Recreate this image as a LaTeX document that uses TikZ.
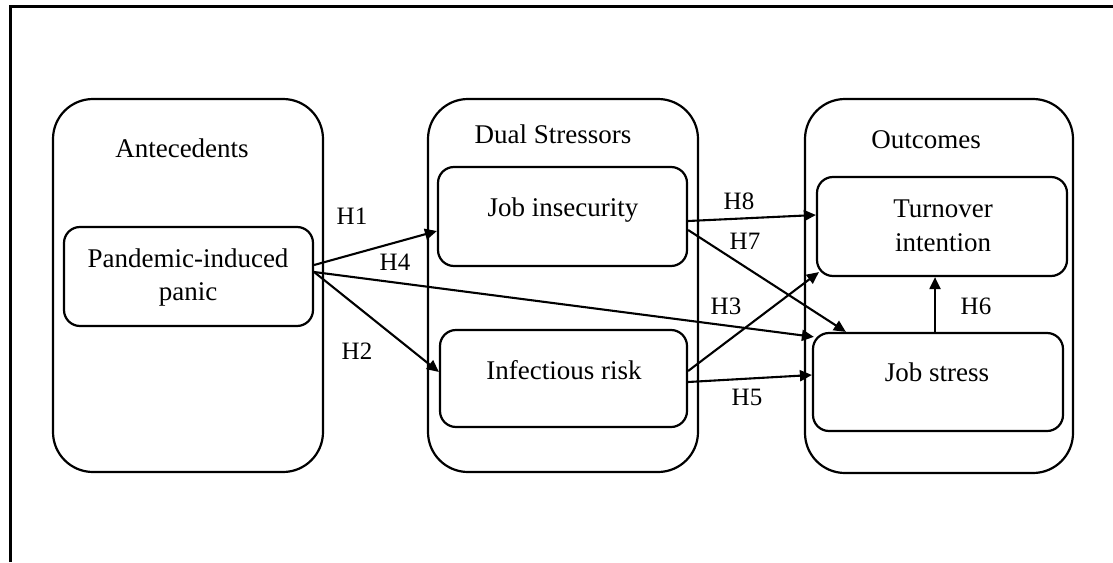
\documentclass[tikz,border=0pt]{standalone}
\usepackage{fontspec}
\setmainfont{Liberation Serif}
\usetikzlibrary{arrows.meta}
\begin{document}
\begin{tikzpicture}[x=1pt,y=-1pt,
  group/.style={draw,line width=2.2pt,rounded corners=40pt,inner sep=0pt},
  var/.style={draw,line width=2.2pt,rounded corners=16pt,inner sep=0pt},
  txt/.style={anchor=base,inner sep=0pt,font=\fontsize{27}{33}\selectfont},
  hyp/.style={anchor=base,inner sep=0pt,font=\fontsize{25}{30}\selectfont},
  link/.style={line width=2.1pt,-{Triangle[length=12pt,width=11pt]}}]
\useasboundingbox (0,0) rectangle (1113,562);

% frame
\draw[line width=3pt] (10,562) -- (10,6) -- (1113,6);

% three groups
\node[group,minimum width=270pt,minimum height=373pt] (ante) at (188,285.5) {};
\node[group,minimum width=270pt,minimum height=373pt] (dual) at (563,285.5) {};
\node[group,minimum width=268pt,minimum height=374pt] (outc) at (939,286) {};
\node[txt] (anteT) at (182,157) {Antecedents};
\node[txt] (dualT) at (553,143) {Dual Stressors};
\node[txt] (outcT) at (926,148) {Outcomes};

% variables
\node[var,minimum width=249pt,minimum height=99pt] (pan) at (188.5,276.5) {};
\node[var,minimum width=249pt,minimum height=99pt] (jin) at (562.5,216.5) {};
\node[var,minimum width=247pt,minimum height=97pt] (inf) at (563.5,378.5) {};
\node[var,minimum width=250pt,minimum height=99pt] (tur) at (942,226.5) {};
\node[var,minimum width=250pt,minimum height=98pt] (jst) at (938,382) {};

\node[txt] (panA) at (188,267) {Pandemic-induced};
\node[txt] (panB) at (188,300) {panic};
\node[txt] (jinT) at (563,216) {Job insecurity};
\node[txt] (infT) at (564,379) {Infectious risk};
\node[txt] (turA) at (943,217) {Turnover};
\node[txt] (turB) at (943,251) {intention};
\node[txt] (jstT) at (937,381) {Job stress};

% hypothesised paths
\draw[link] ([yshift=11.5pt]pan.east) -- ([yshift=-14.5pt]jin.west);
\draw[link] ([yshift=4.5pt]pan.east) -- ([shift={(2pt,-5pt)}]jst.north west);
\draw[link] ([yshift=4.5pt]pan.east) -- ([yshift=6.5pt]inf.west);
\draw[link] ([yshift=-4.5pt]jin.east) -- ([yshift=11.5pt]tur.west);
\draw[link] ([yshift=-13.5pt]jin.east) -- ([xshift=34pt]jst.north west);
\draw[link] ([yshift=7.5pt]inf.east) -- ([shift={(3pt,5pt)}]tur.south west);
\draw[link] ([yshift=-3.5pt]inf.east) -- ([yshift=7pt]jst.west);
\draw[link] ([xshift=-3pt]jst.north) -- ([xshift=-7pt]tur.south);

\node[hyp] (h1) at (352,224) {H1};
\node[hyp] (h4) at (395,270) {H4};
\node[hyp] (h2) at (357,359) {H2};
\node[hyp] (h8) at (739,209) {H8};
\node[hyp] (h7) at (745,249) {H7};
\node[hyp] (h3) at (726,314) {H3};
\node[hyp] (h5) at (747,405) {H5};
\node[hyp] (h6) at (976,314) {H6};
\end{tikzpicture}
\end{document}
